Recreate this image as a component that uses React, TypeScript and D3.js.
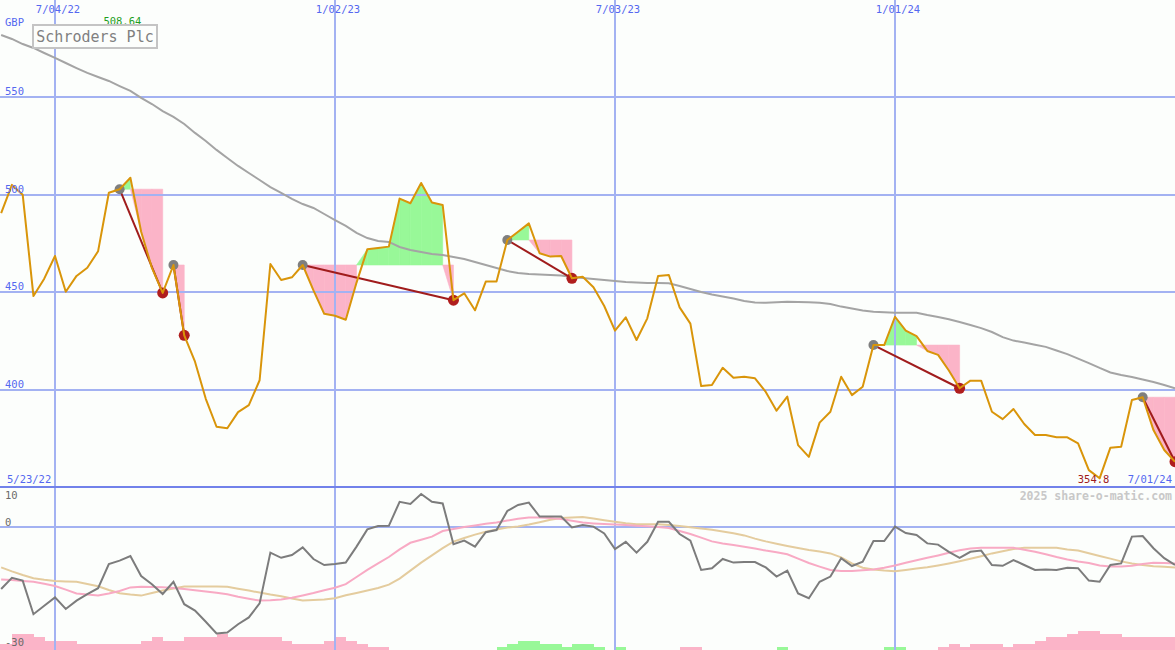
import React from "react";
import * as d3 from "d3";

// ---------- data ----------
const firstWeek = Date.UTC(2022, 4, 30); // weekly closes start here
const startLabel = "5/23/22";
const endLabel = "7/01/24";
const company = "Schroders Plc";
const currency = "GBP";
const footer = "2025 share-o-matic.com";

const closes = [
  490.6, 505, 500, 448.1, 457, 468.6, 450.3, 458.4, 462.6, 471,
  501, 502.8, 508.64, 481, 462.5, 449.7, 464, 428, 414.5, 395.5,
  381.2, 380.4, 388.7, 392.3, 405, 464.5, 456.3, 457.7, 464, 451,
  439, 438, 436, 455, 472, 472.7, 473.4, 498, 495.6, 506,
  496, 494.7, 446, 449.5, 440.8, 455.5, 455.5, 476.8, 481, 485.3,
  470, 468.3, 468.6, 457.2, 458, 452.6, 443, 430.4, 437.2, 425.6,
  436.7, 458.4, 458.9, 442.3, 434, 402, 402.6, 411.4, 406.3, 406.8,
  406, 399, 389.4, 396.6, 371.8, 365.8, 383.3, 388.9, 406.8, 397.4,
  401.7, 423, 423, 437.5, 430.4, 427.6, 420, 418, 410, 400.9,
  404.8, 404.8, 388.9, 385.1, 390.3, 382.6, 377, 377, 375.8, 375.8,
  372.7, 359, 354.8, 370.5, 371, 394.9, 396.3, 379.5, 369.3, 363.3,
];

const movingAvg = [
  581.7, 579.7, 577.1, 575.1, 572.5, 570.0, 567.4, 564.8, 562.3, 560.2,
  558.2, 555.6, 553.1, 549.5, 546.4, 542.8, 539.8, 536.2, 531.6, 527.5,
  522.9, 518.8, 514.7, 511.1, 507.5, 503.9, 500.9, 497.8, 495.2, 493.2,
  490.1, 487.0, 484.0, 480.4, 477.8, 476.3, 475.8, 473.2, 471.7, 470.6,
  469.6, 469.1, 468.1, 467.1, 465.5, 464.0, 462.5, 460.9, 459.9, 459.4,
  459.1, 458.9, 458.6, 457.9, 457.3, 456.8, 456.3, 455.8, 455.3, 455.0,
  454.8, 454.8, 454.6, 453.2, 451.7, 450.2, 448.9, 447.9, 446.8, 445.6,
  444.8, 444.7, 444.9, 445.2, 445.1, 444.9, 444.7, 444.0, 442.7, 441.7,
  440.7, 440.1, 439.8, 439.6, 439.6, 439.6, 438.4, 437.4, 436.2, 434.8,
  433.3, 431.7, 429.7, 427.1, 425.3, 424.3, 423.2, 422.1, 420.2, 418.4,
  416.1, 413.8, 411.3, 409.0, 407.7, 406.7, 405.4, 404.1, 402.6, 400.9,
];

const momentum = [
  -15.5, -12.7, -13.4, -21.8, -19.7, -17.6, -20.5, -18.4, -16.8, -15.3,
  -9.25, -8.4, -7.25, -12.25, -14.3, -16.75, -13.7, -19.3, -20.9, -23.7,
  -26.6, -26.4, -24.3, -22.6, -19.1, -6.4, -7.7, -7, -5.1, -8,
  -9.5, -9.25, -8.9, -4.9, -0.6, 0.25, 0.3, 6.3, 5.75, 8.25,
  6.3, 5.9, -4.3, -3.4, -4.9, -1.3, -0.75, 4, 5.5, 6.1,
  2.6, 2.6, 2.6, -0.1, 0.5, 0.1, -1.6, -5.5, -3.7, -6.4,
  -3.7, 1.3, 1.3, -1.75, -3.4, -10.75, -10.3, -8, -8.9, -8.75,
  -8.75, -10.1, -12.4, -10.9, -16.6, -17.8, -13.7, -12.4, -7.8, -9.75,
  -8.7, -3.5, -3.5, 0.1, -1.5, -2, -4.1, -4.4, -6.2, -7.7,
  -6.2, -5.9, -9.5, -9.7, -8.25, -9.5, -10.75, -10.6, -10.75, -10.2,
  -10.3, -13.4, -13.7, -9.5, -9.1, -2.4, -2.25, -5.3, -7.8, -9.5,
];

const momentumFast = [
  -13.1, -13.25, -13.5, -13.7, -14.2, -14.75, -15.65, -16.6, -16.9, -17.1,
  -16.6, -16, -15.1, -14.95, -15, -15.05, -15.25, -15.5, -15.8, -16.1,
  -16.45, -16.8, -17.45, -17.95, -18.4, -18.3, -18.1, -17.7, -17.1, -16.5,
  -15.8, -15.2, -14.3, -12.5, -10.7, -9.1, -7.5, -5.6, -3.95, -3.2,
  -2.4, -1, -0.5, 0, 0.4, 0.8, 1.1, 1.6, 2.05, 2.4,
  2.4, 2.25, 2, 1.55, 1.1, 0.9, 0.75, 0.6, 0.5, 0.3,
  0.2, 0, -0.25, -1, -1.75, -2.65, -3.6, -4.1, -4.5, -4.95,
  -5.4, -5.9, -6.3, -6.8, -7.9, -9, -9.9, -10.75, -11, -11,
  -10.8, -10.65, -10.2, -9.6, -8.95, -8.3, -7.7, -7.1, -6.45, -5.8,
  -5.4, -5.2, -5.2, -5.2, -5.2, -5.7, -6.2, -6.8, -7.5, -8.1,
  -8.6, -9, -9.6, -9.9, -9.9, -9.7, -9.25, -8.95, -9, -9.1,
];

const momentumSlow = [
  -10.1, -11.1, -12, -12.8, -13.2, -13.5, -13.6, -13.7, -14.25, -14.8,
  -15.75, -16.55, -16.9, -17.15, -16.5, -15.9, -15.4, -14.9, -14.9, -14.9,
  -14.9, -14.95, -15.45, -15.9, -16.4, -16.9, -17.3, -17.9, -18.4, -18.25,
  -18.1, -17.8, -17.05, -16.5, -15.9, -15.25, -14.4, -12.9, -10.9, -8.9,
  -7.1, -5.3, -3.65, -2.75, -1.9, -1.2, -0.6, -0.15, 0.15, 0.6,
  1.2, 1.8, 2.25, 2.4, 2.5, 2.1, 1.7, 1.3, 0.95, 0.7,
  0.7, 0.7, 0.5, 0.25, -0.05, -0.4, -0.7, -1.1, -1.55, -2.1,
  -2.9, -3.6, -4.2, -4.75, -5.25, -5.75, -6.15, -6.6, -7.6, -9.1,
  -10.2, -10.6, -10.9, -11.05, -10.75, -10.4, -10.05, -9.6, -9.1, -8.55,
  -7.95, -7.3, -6.6, -6.05, -5.5, -5.2, -5.2, -5.2, -5.2, -5.6,
  -5.9, -6.55, -7.25, -7.9, -8.6, -9.15, -9.5, -9.8, -9.95, -10.1,
];

const histogram = [
  -2, -5, -5, -4, -3, -3, -3, -2, -2, -2,
  -2, -2, -2, -3, -4, -3, -3, -4, -4, -4,
  -5, -4, -4, -4, -4, -4, -3, -2, -2, -2,
  -3, -4, -3, -2, -1, -1, 0, 0, 0, 0,
  0, 0, 0, 0, 0, 0, 1, 2, 3, 3,
  2, 2, 1, 2, 2, 1, 0, 1, 0, 0,
  0, 0, 0, -1, -1, 0, 0, 0, 0, 0,
  0, 0, 1, 0, 0, 0, 0, 0, 0, 0,
  0, 0, 1, 1, 0, 0, 0, -1, -2, -1,
  -2, -2, -2, -1, -2, -2, -3, -4, -4, -5,
  -6, -6, -5, -5, -4, -4, -4, -4, -4, -4,
];

const tickDates = [Date.UTC(2022, 6, 4), Date.UTC(2023, 0, 2), Date.UTC(2023, 6, 3), Date.UTC(2024, 0, 1)];
const tickLabels = ["7/04/22", "1/02/23", "7/03/23", "1/01/24"];
const priceTicks = [550, 500, 450, 400];
const lowerTicks = [10, 0, -30];

// signal pairs: array index of grey (entry) point and red (exit) point
const signalFrom = [11, 16, 28, 47, 81, 106];
const signalTo = [15, 17, 42, 53, 89, 109];

// ---------- component ----------
const W = 1175;
const H = 650;
const FONT = "'DejaVu Sans Mono', monospace";
const GRID = "#a3b2f2";
const BLUE = "#5468f0";

export default function App() {
  const dates = closes.map((_, i) => d3.utcDay.offset(new Date(firstWeek), 7 * i));
  const x = d3
    .scaleUtc()
    .domain([new Date(tickDates[0]), new Date(Date.UTC(2024, 6, 1))])
    .range([55, 1175]);
  const y = d3.scaleLinear().domain([350, 600]).range([487.7, -0.7]);
  const ym = d3.scaleLinear().domain([-30, 10]).range([647, 487]);
  const hb = d3.scaleLinear().domain([0, 6]).range([0, 19]);

  const X = (i: number) => x(dates[i]);
  const priceLine = d3.line<number>().x((_, i) => X(i)).y((d) => y(d));
  const lowLine = d3.line<number>().x((_, i) => X(i)).y((d) => ym(d));
  const gy = (v: number) => Math.round(v);

  // fills between price and entry level
  const fills: { d: string; c: string }[] = [];
  signalFrom.forEach((f, s) => {
    const L = closes[f];
    for (let i = f; i < signalTo[s]; i++) {
      const p0 = closes[i];
      const p1 = closes[i + 1];
      const x0 = X(i);
      const x1 = X(i + 1);
      let pts: [number, number][];
      let c: string;
      if (p1 < L) {
        pts = [[x0, y(L)], [x1, y(L)], [x1, y(p1)], [x0, y(Math.min(p0, L))]];
        c = "#fbb4c8";
      } else {
        pts = [[x0, y(L)], [x0, y(Math.max(p0, L))], [x1, y(p1)], [x1, y(L)]];
        c = "#98f898";
      }
      fills.push({ d: "M" + pts.map((p) => p.join(",")).join("L") + "Z", c });
    }
  });

  const hiIdx = d3.maxIndex(closes);
  const loIdx = d3.minIndex(closes);

  return (
    <svg
      width={W}
      height={H}
      style={{ position: "absolute", left: 0, top: 0, background: "#fcfefc" }}
      fontFamily={FONT}
    >
      <rect x={0} y={0} width={W} height={H} fill="#fcfefc" />

      {/* histogram */}
      <g shapeRendering="crispEdges">
        {histogram.map((v, i) => {
          if (v === 0) return null;
          const x0 = i === 0 ? 0 : X(i);
          const x1 = i + 1 < dates.length ? X(i + 1) : W;
          const h = hb(Math.abs(v));
          return (
            <rect key={"h" + i} x={x0} y={H - h} width={x1 - x0 + 0.5} height={h} fill={v > 0 ? "#98f898" : "#fbb4c8"} />
          );
        })}
      </g>

      {/* signal fills */}
      {fills.map((f, i) => (
        <path key={"f" + i} d={f.d} fill={f.c} stroke={f.c} strokeWidth={0.6} />
      ))}

      {/* grid */}
      <g shapeRendering="crispEdges">
        {priceTicks.map((t) => (
          <line key={"g" + t} x1={0} x2={W} y1={gy(y(t))} y2={gy(y(t))} stroke={GRID} strokeWidth={2} />
        ))}
        {tickDates.map((t) => (
          <line key={"v" + t} x1={gy(x(new Date(t)))} x2={gy(x(new Date(t)))} y1={0} y2={H} stroke={GRID} strokeWidth={2} />
        ))}
        <line x1={0} x2={W} y1={ym(0)} y2={ym(0)} stroke={GRID} strokeWidth={2} />
        <line x1={0} x2={W} y1={487} y2={487} stroke="#7282ea" strokeWidth={2} />
      </g>

      {/* lower panel lines */}
      <path d={lowLine(momentumSlow) || ""} fill="none" stroke="#e4cc9e" strokeWidth={2} />
      <path d={lowLine(momentumFast) || ""} fill="none" stroke="#f8aac4" strokeWidth={2} />
      <path d={lowLine(momentum) || ""} fill="none" stroke="#7c7c7c" strokeWidth={2} />

      {/* moving average */}
      <path d={priceLine(movingAvg) || ""} fill="none" stroke="#a4a4a4" strokeWidth={2} />

      {/* trend lines */}
      {signalFrom.map((f, s) => (
        <line
          key={"t" + s}
          x1={X(f)}
          y1={y(closes[f])}
          x2={X(signalTo[s])}
          y2={y(closes[signalTo[s]])}
          stroke="#a01c1c"
          strokeWidth={2}
        />
      ))}
      {signalFrom.map((f, s) => (
        <g key={"d" + s}>
          <circle cx={X(f)} cy={y(closes[f])} r={5} fill="#7f7f7f" />
          <circle cx={X(signalTo[s])} cy={y(closes[signalTo[s]])} r={5.5} fill="#b01e1e" />
        </g>
      ))}

      {/* price */}
      <path d={priceLine(closes) || ""} fill="none" stroke="#d9950a" strokeWidth={2} strokeLinejoin="round" />

      {/* labels */}
      <text x={5} y={25.5} fontSize={10.5} fill={BLUE}>{currency}</text>
      {priceTicks.map((t) => (
        <text key={"l" + t} x={5} y={y(t) - 2} fontSize={10.5} fill={BLUE}>{t}</text>
      ))}
      {tickDates.map((t, i) => (
        <text key={"tl" + t} x={x(new Date(t)) + 3} y={13} fontSize={10.5} fill={BLUE} textAnchor="middle">
          {tickLabels[i]}
        </text>
      ))}
      <text x={X(hiIdx) - 8} y={25} fontSize={10.5} fill="#1e9e1e" textAnchor="middle">
        {closes[hiIdx].toFixed(2)}
      </text>
      <rect x={33} y={25} width={124} height={23} fill="#fcfefc" stroke="#c4c4c4" strokeWidth={2} />
      <text x={95} y={41.5} fontSize={15} fill="#808080" textAnchor="middle">{company}</text>

      <text x={7} y={483} fontSize={10.5} fill={BLUE}>{startLabel}</text>
      <text x={X(loIdx) - 6} y={483} fontSize={10.5} fill="#a01c1c" textAnchor="middle">{closes[loIdx]}</text>
      <text x={1172} y={483} fontSize={10.5} fill={BLUE} textAnchor="end">{endLabel}</text>
      <text x={1172} y={500} fontSize={11.5} fontWeight="bold" fill="#c8c8c8" textAnchor="end">{footer}</text>

      {lowerTicks.map((t, i) => (
        <text
          key={"lt" + t}
          x={5}
          y={i === 0 ? 499 : i === 1 ? ym(t) - 1.5 : 645.5}
          fontSize={10.5}
          fill="#6a6a6a"
        >
          {t}
        </text>
      ))}
    </svg>
  );
}
